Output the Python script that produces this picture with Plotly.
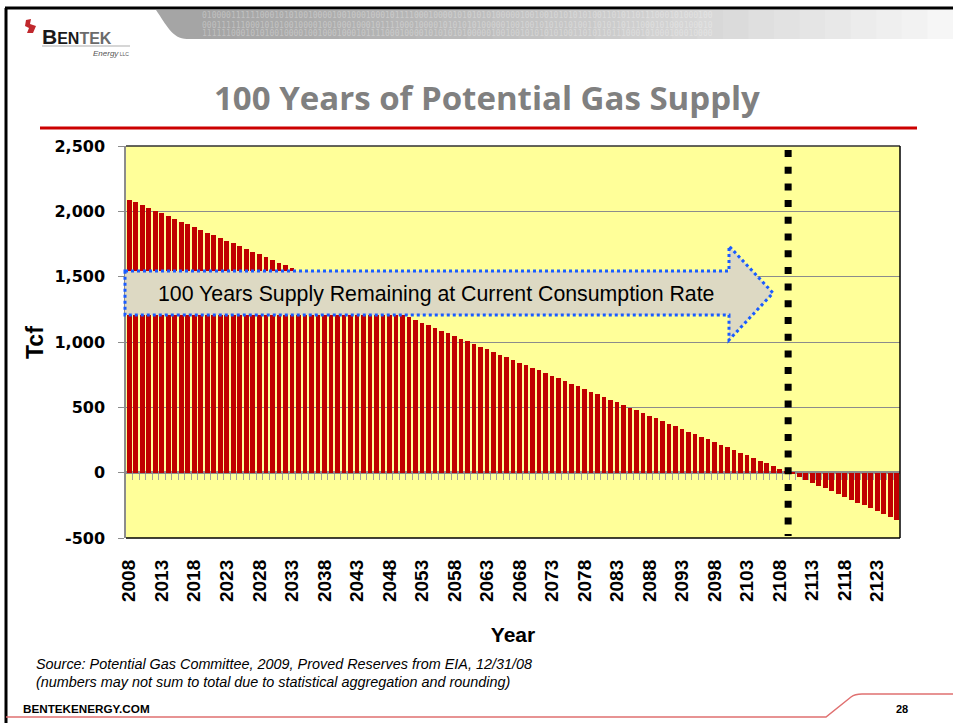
import plotly.graph_objects as go

# ---------------- data ----------------
years = list(range(2008, 2127))
tcf_remaining = [
    2090, 2069, 2048, 2027, 2006, 1985, 1964, 1943, 1922, 1901,
    1880, 1859, 1838, 1817, 1796, 1775, 1754, 1733, 1712, 1691,
    1670, 1649, 1628, 1607, 1586, 1565, 1544, 1523, 1502, 1481,
    1460, 1439, 1418, 1397, 1376, 1355, 1334, 1313, 1292, 1271,
    1250, 1229, 1208,
    1188, 1167, 1147, 1127, 1106, 1086, 1066, 1046, 1025, 1005,
    985, 964, 944, 924, 903, 883, 863, 843, 822, 802,
    782, 761, 741, 721, 700, 680, 660, 640, 619, 599,
    579, 558, 538, 518, 497, 477, 457, 437, 416, 396,
    376, 355, 335, 315, 294, 274, 254, 234, 213, 193,
    173, 152, 132, 112, 91, 71, 51, 31,
    9, -12, -34, -56, -77, -99, -121, -142, -164, -186,
    -208, -229, -251, -273, -294, -316, -338, -359,
]
tick_years = list(range(2008, 2127, 5))
y_ticks = [-500, 0, 500, 1000, 1500, 2000, 2500]
depletion_year = 2109.3

title_text = "100 Years of Potential Gas Supply"
arrow_text = "100 Years Supply Remaining at Current Consumption Rate"
source_lines = [
    "Source: Potential Gas Committee, 2009, Proved Reserves from EIA, 12/31/08",
    "(numbers may not sum to total due to statistical aggregation and rounding)",
]

# ---------------- geometry helpers ----------------
W, H = 953, 723
L, R, T, B = 126, 900, 146, 538


def X(px):
    return (px - L) / (R - L)


def Y(py):
    return (B - py) / (B - T)


BAR_RED = "#C00000"
PLOT_BG = "#FFFF99"
GRID = "#8C8C8C"
FONT = "Liberation Sans, Arial, sans-serif"

fig = go.Figure()

fig.add_trace(go.Bar(
    x=years, y=tcf_remaining, width=0.72,
    marker=dict(color=BAR_RED, line=dict(width=0)),
    hoverinfo="x+y", showlegend=False,
))

# invisible trace to carry the minor-tick axis at y = 0
fig.add_trace(go.Scatter(
    x=[years[0]], y=[0], xaxis="x2", mode="markers",
    marker=dict(opacity=0), hoverinfo="skip", showlegend=False,
))

x_range = [years[0] - 0.5, years[-1] + 0.5]
y_range = [y_ticks[0], y_ticks[-1]]

fig.update_layout(
    width=W, height=H, autosize=False,
    margin=dict(l=L, r=W - R, t=T, b=H - B, pad=0),
    paper_bgcolor="white", plot_bgcolor=PLOT_BG,
    bargap=0,
    xaxis=dict(
        range=x_range, tickmode="array", tickvals=tick_years,
        ticktext=[str(v) for v in tick_years],
        tickangle=-90, showgrid=False, zeroline=False, showline=False,
        ticks="", ticklabelstandoff=17,
        tickfont=dict(family=FONT, size=19, color="black", weight="bold"),
        title=dict(text="<b>Year</b>", standoff=26,
                   font=dict(family=FONT, size=21, color="black")),
    ),
    xaxis2=dict(
        range=x_range, overlaying="x", anchor="free",
        position=(0 - y_range[0]) / (y_range[1] - y_range[0]),
        side="bottom", tickmode="array",
        tickvals=[y + 0.5 for y in years[:-1]],
        ticks="outside", ticklen=6, tickwidth=1, tickcolor="#A0A0A0",
        showticklabels=False, showgrid=False, zeroline=False, showline=False,
    ),
    yaxis=dict(
        range=y_range, tickmode="array", tickvals=y_ticks,
        ticktext=[f"{v:,}" for v in y_ticks],
        showgrid=True, gridcolor=GRID, gridwidth=1,
        zeroline=True, zerolinecolor="#8C8C8C", zerolinewidth=3,
        showline=True, linecolor="#8C8C8C", linewidth=1.5,
        ticks="outside", ticklen=6, tickcolor="#8C8C8C",
        ticklabelstandoff=10,
        tickfont=dict(family="DejaVu Sans, sans-serif", size=16,
                      color="black", weight="bold"),
    ),
)

shapes = []
annotations = []

# plot border (top, right, bottom)
shapes.append(dict(type="line", xref="paper", yref="paper", x0=0, x1=1, y0=1, y1=1,
                   line=dict(color="#303030", width=1.5)))
shapes.append(dict(type="line", xref="paper", yref="paper", x0=1, x1=1, y0=0, y1=1,
                   line=dict(color="black", width=1.5)))
shapes.append(dict(type="line", xref="paper", yref="paper", x0=0, x1=1, y0=0, y1=0,
                   line=dict(color="black", width=1.5)))

# slide frame
shapes.append(dict(type="line", xref="paper", yref="paper", x0=X(6), x1=X(6),
                   y0=Y(8), y1=Y(723), line=dict(color="black", width=3)))
shapes.append(dict(type="line", xref="paper", yref="paper", x0=X(5), x1=X(953),
                   y0=Y(8), y1=Y(8), line=dict(color="black", width=3)))

# header banner (gray fading to white)
n_seg = 30
x_start, x_end = 186, 953
for i in range(n_seg):
    t = i / (n_seg - 1)
    c = int(165 + (246 - 165) * t ** 1.2)
    xa = x_start + (x_end - x_start) * i / n_seg
    xb = x_start + (x_end - x_start) * (i + 1) / n_seg + 0.8
    shapes.append(dict(type="rect", xref="paper", yref="paper",
                       x0=X(xa), x1=X(xb), y0=Y(39), y1=Y(10),
                       fillcolor=f"rgb({c},{c},{c})", line=dict(width=0), layer="below"))
shapes.append(dict(
    type="path", xref="paper", yref="paper",
    path=(f"M {X(156)},{Y(10)} C {X(166)},{Y(24)} {X(172)},{Y(39)} {X(187)},{Y(39)} "
          f"L {X(187)},{Y(10)} Z"),
    fillcolor="rgb(165,165,165)", line=dict(width=0), layer="below"))
binary = "0100001111110001010100100001001000100010111100010000101010101000001001001010101010011010110111000101000100"
for k, yy in enumerate([16, 25, 34]):
    annotations.append(dict(
        xref="paper", yref="paper", x=X(200), y=Y(yy), xanchor="left", yanchor="middle",
        text=binary[k * 3:] + binary[:k * 3], showarrow=False,
        font=dict(family="DejaVu Sans Mono, monospace", size=8, color="rgba(255,255,255,0.3)"),
    ))

# logo
shapes.append(dict(
    type="path", xref="paper", yref="paper",
    path=(f"M {X(26)},{Y(20)} L {X(31)},{Y(19)} L {X(30)},{Y(24)} L {X(36)},{Y(26)} "
          f"L {X(33)},{Y(33)} L {X(27)},{Y(33)} L {X(29)},{Y(28)} L {X(25)},{Y(26)} Z"),
    fillcolor="#C0282D", line=dict(width=0)))
annotations.append(dict(
    xref="paper", yref="paper", x=X(40), y=Y(36), xanchor="left", yanchor="middle",
    text=("<b><span style='color:#1a1a1a'>B</span>"
          "<span style='font-size:16px;color:#1a1a1a'>EN</span>"
          "<span style='font-size:16px;color:#6b6b6b'>TEK</span></b>"),
    showarrow=False, font=dict(family=FONT, size=21, color="#1a1a1a"),
))
shapes.append(dict(type="line", xref="paper", yref="paper", x0=X(42), x1=X(130),
                   y0=Y(46), y1=Y(46), line=dict(color="#C8C8C8", width=1.5)))
annotations.append(dict(
    xref="paper", yref="paper", x=X(131), y=Y(53), xanchor="right", yanchor="middle",
    text="<i>Energy</i><span style='font-size:5px'> LLC</span>", showarrow=False,
    font=dict(family=FONT, size=8, color="#555555"),
))

# title + red rule
annotations.append(dict(
    xref="paper", yref="paper", x=X(487), y=Y(97), xanchor="center", yanchor="middle",
    text=f"<b>{title_text}</b>", showarrow=False,
    font=dict(family="Open Sans, Lato, sans-serif", size=33, color="#808080"),
))
shapes.append(dict(type="line", xref="paper", yref="paper", x0=X(40), x1=X(917),
                   y0=Y(128), y1=Y(128), line=dict(color="#CC0000", width=3)))

# y-axis title
annotations.append(dict(
    xref="paper", yref="paper", x=X(35), y=Y(343), xanchor="center", yanchor="middle",
    text="<b>Tcf</b>", textangle=-90, showarrow=False,
    font=dict(family=FONT, size=23, color="black"),
))

# depletion line
shapes.append(dict(type="line", xref="x", yref="paper",
                   x0=depletion_year, x1=depletion_year, y0=Y(150), y1=Y(536),
                   line=dict(color="black", width=7, dash="7px,9.7px"), layer="above"))

# block arrow
ap = [(125, 271), (729, 271), (729, 246), (773, 293), (729, 340), (729, 315), (125, 315)]
path = "M " + " L ".join(f"{X(a)},{Y(b)}" for a, b in ap) + " Z"
shapes.append(dict(type="path", xref="paper", yref="paper", path=path,
                   fillcolor="#DDD9C3", line=dict(color="#1A5CFF", width=3, dash="dot"),
                   layer="above"))
annotations.append(dict(
    xref="paper", yref="paper", x=X(436), y=Y(294), xanchor="center", yanchor="middle",
    text=arrow_text, showarrow=False,
    font=dict(family=FONT, size=21.3, color="black"),
))

# source notes
for i, line in enumerate(source_lines):
    annotations.append(dict(
        xref="paper", yref="paper", x=X(34), y=Y(664 + i * 18), xanchor="left", yanchor="middle",
        text=f"<i>{line}</i>", showarrow=False,
        font=dict(family=FONT, size=14.4, color="black"),
    ))
annotations.append(dict(
    xref="paper", yref="paper", x=X(21), y=Y(708), xanchor="left", yanchor="middle",
    text="<b>BENTEKENERGY.COM</b>", showarrow=False,
    font=dict(family=FONT, size=11.7, color="black"),
))

# footer swoosh + page number
shapes.append(dict(
    type="path", xref="paper", yref="paper",
    path=(f"M {X(6)},{Y(717)} L {X(826)},{Y(717)} L {X(851)},{Y(697)} "
          f"Q {X(855)},{Y(694)} {X(862)},{Y(694)} L {X(953)},{Y(694)}"),
    line=dict(color="#E07070", width=1.5)))
annotations.append(dict(
    xref="paper", yref="paper", x=X(902), y=Y(709), xanchor="center", yanchor="middle",
    text="<b>28</b>", showarrow=False,
    font=dict(family=FONT, size=11, color="black"),
))

fig.update_layout(shapes=shapes, annotations=annotations)
fig.write_html(
    "out.html",
    config={"displayModeBar": False},
    post_script="document.body.style.margin='0';document.body.style.overflow='hidden';",
)
